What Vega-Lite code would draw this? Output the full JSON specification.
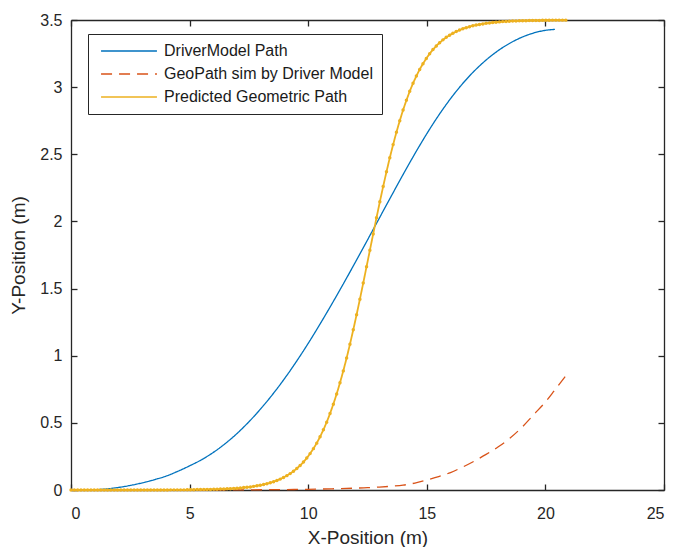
{
"$schema": "https://vega.github.io/schema/vega-lite/v6.json",
"width": 593, "height": 470,
"autosize": {"type": "none"},
"padding": {"left": 71, "top": 20, "right": 11, "bottom": 57},
"background": "white",
"config": {
 "view": {"stroke": null},
 "font": "Liberation Sans",
 "axis": {"domainColor": "#262626", "domainWidth": 1.3, "tickColor": "#262626", "tickWidth": 1.3, "tickSize": 6, "labelColor": "#262626", "labelFont": "Liberation Sans", "labelFontSize": 16, "titleFont": "Liberation Sans", "titleFontSize": 19, "titleFontWeight": "normal", "titleColor": "#262626", "grid": false},
 "legend": {"orient": "none", "legendX": 17, "legendY": 14, "title": null, "symbolType": "M-5,0H5", "symbolSize": 125, "symbolOffset": 24, "symbolStrokeWidth": 1.3, "labelFontSize": 16, "labelFont": "Liberation Sans", "labelColor": "#1a1a1a", "fillColor": "white", "strokeColor": "#262626", "padding": 9, "rowPadding": 7, "labelOffset": 27, "labelLimit": 0}
},
"datasets": {
 "blue": [
  {"x":0,"y":0},{"x":0.5,"y":0},{"x":1,"y":0.002},{"x":1.5,"y":0.008},{"x":2,"y":0.019},{"x":2.5,"y":0.034},{"x":3,"y":0.053},{"x":3.5,"y":0.076},{"x":4,"y":0.103},{"x":4.5,"y":0.139},{"x":5,"y":0.18},{"x":5.5,"y":0.225},{"x":6,"y":0.28},{"x":6.5,"y":0.345},{"x":7,"y":0.421},{"x":7.5,"y":0.508},{"x":8,"y":0.605},{"x":8.5,"y":0.712},{"x":9,"y":0.829},{"x":9.5,"y":0.956},{"x":10,"y":1.092},{"x":10.5,"y":1.236},{"x":11,"y":1.386},{"x":11.5,"y":1.541},{"x":12,"y":1.7},{"x":12.5,"y":1.862},{"x":13,"y":2.025},{"x":13.5,"y":2.188},{"x":14,"y":2.349},{"x":14.5,"y":2.505},{"x":15,"y":2.653},{"x":15.5,"y":2.79},{"x":16,"y":2.914},{"x":16.5,"y":3.024},{"x":17,"y":3.12},{"x":17.5,"y":3.202},{"x":18,"y":3.271},{"x":18.5,"y":3.327},{"x":19,"y":3.371},{"x":19.5,"y":3.403},{"x":20,"y":3.423},{"x":20.4,"y":3.43}
 ],
 "red": [
  {"x":0,"y":0},{"x":4,"y":0},{"x":7,"y":0.001},{"x":9,"y":0.003},{"x":10,"y":0.005},{"x":11,"y":0.009},{"x":12,"y":0.014},{"x":12.5,"y":0.017},{"x":13,"y":0.022},{"x":13.5,"y":0.028},{"x":14,"y":0.036},{"x":14.5,"y":0.052},{"x":15,"y":0.075},{"x":15.5,"y":0.1},{"x":16,"y":0.13},{"x":16.5,"y":0.17},{"x":17,"y":0.215},{"x":17.5,"y":0.265},{"x":18,"y":0.32},{"x":18.5,"y":0.385},{"x":19,"y":0.465},{"x":19.5,"y":0.56},{"x":20,"y":0.655},{"x":20.4,"y":0.745},{"x":20.86,"y":0.85}
 ],
 "yellow": [
  {"x":0,"y":0},{"x":0.14,"y":0},{"x":0.28,"y":0},{"x":0.42,"y":0},{"x":0.56,"y":0},{"x":0.7,"y":0},{"x":0.84,"y":0},{"x":0.98,"y":0},{"x":1.12,"y":0},{"x":1.26,"y":0},{"x":1.4,"y":0},{"x":1.54,"y":0},{"x":1.68,"y":0},{"x":1.82,"y":0},{"x":1.96,"y":0},{"x":2.1,"y":0},{"x":2.24,"y":0},{"x":2.38,"y":0},{"x":2.52,"y":0},{"x":2.66,"y":0},{"x":2.8,"y":0},{"x":2.94,"y":0},{"x":3.08,"y":0},{"x":3.22,"y":0},{"x":3.36,"y":0},{"x":3.5,"y":0},{"x":3.64,"y":0},{"x":3.78,"y":0},{"x":3.92,"y":0},{"x":4.06,"y":0},{"x":4.2,"y":0.001},{"x":4.34,"y":0.001},{"x":4.48,"y":0.001},{"x":4.62,"y":0.001},{"x":4.76,"y":0.001},{"x":4.9,"y":0.002},
  {"x":5.04,"y":0.002},{"x":5.18,"y":0.002},{"x":5.32,"y":0.003},{"x":5.46,"y":0.003},{"x":5.6,"y":0.003},{"x":5.74,"y":0.004},{"x":5.88,"y":0.004},{"x":6.02,"y":0.005},{"x":6.16,"y":0.006},{"x":6.3,"y":0.007},{"x":6.44,"y":0.008},{"x":6.58,"y":0.009},{"x":6.72,"y":0.01},{"x":6.86,"y":0.012},{"x":7,"y":0.013},{"x":7.14,"y":0.015},{"x":7.28,"y":0.018},{"x":7.42,"y":0.02},{"x":7.56,"y":0.023},{"x":7.7,"y":0.027},{"x":7.84,"y":0.031},{"x":7.98,"y":0.036},{"x":8.12,"y":0.041},{"x":8.26,"y":0.047},{"x":8.4,"y":0.054},{"x":8.54,"y":0.062},{"x":8.68,"y":0.071},{"x":8.82,"y":0.081},{"x":8.96,"y":0.093},{"x":9.1,"y":0.107},{"x":9.24,"y":0.122},{"x":9.38,"y":0.14},{"x":9.52,"y":0.16},{"x":9.66,"y":0.183},{"x":9.8,"y":0.208},{"x":9.94,"y":0.238},{"x":10.08,"y":0.271},{"x":10.22,"y":0.308},{"x":10.36,"y":0.349},{"x":10.5,"y":0.396},{"x":10.64,"y":0.448},{"x":10.78,"y":0.505},{"x":10.92,"y":0.569},{"x":11.06,"y":0.639},{"x":11.2,"y":0.715},{"x":11.34,"y":0.798},{"x":11.48,"y":0.887},{"x":11.62,"y":0.983},{"x":11.76,"y":1.085},{"x":11.9,"y":1.193},{"x":12.04,"y":1.305},{"x":12.18,"y":1.421},{"x":12.32,"y":1.541},{"x":12.46,"y":1.663},{"x":12.6,"y":1.785},{"x":12.74,"y":1.907},{"x":12.88,"y":2.028},{"x":13.02,"y":2.146},{"x":13.16,"y":2.26},{"x":13.3,"y":2.37},{"x":13.44,"y":2.474},{"x":13.58,"y":2.572},{"x":13.72,"y":2.665},{"x":13.86,"y":2.75},{"x":14,"y":2.83},{"x":14.14,"y":2.902},{"x":14.28,"y":2.969},{"x":14.42,"y":3.029},{"x":14.56,"y":3.083},{"x":14.7,"y":3.132},{"x":14.84,"y":3.175},{"x":14.98,"y":3.214},{"x":15.12,"y":3.249},{"x":15.26,"y":3.28},{"x":15.4,"y":3.307},{"x":15.54,"y":3.331},{"x":15.68,"y":3.352},{"x":15.82,"y":3.371},{"x":15.96,"y":3.387},{"x":16.1,"y":3.401},{"x":16.24,"y":3.414},{"x":16.38,"y":3.425},{"x":16.52,"y":3.435},{"x":16.66,"y":3.443},{"x":16.8,"y":3.45},{"x":16.94,"y":3.457},{"x":17.08,"y":3.462},{"x":17.22,"y":3.467},{"x":17.36,"y":3.471},{"x":17.5,"y":3.475},{"x":17.64,"y":3.478},{"x":17.78,"y":3.481},{"x":17.92,"y":3.484},{"x":18.06,"y":3.486},{"x":18.2,"y":3.488},{"x":18.34,"y":3.489},{"x":18.48,"y":3.491},{"x":18.62,"y":3.492},{"x":18.76,"y":3.493},{"x":18.9,"y":3.494},{"x":19.04,"y":3.495},{"x":19.18,"y":3.495},{"x":19.32,"y":3.496},{"x":19.46,"y":3.497},{"x":19.6,"y":3.497},{"x":19.74,"y":3.497},{"x":19.88,"y":3.498},{"x":20.02,"y":3.498},{"x":20.16,"y":3.498},{"x":20.3,"y":3.499},{"x":20.44,"y":3.499},{"x":20.58,"y":3.499},{"x":20.72,"y":3.499},{"x":20.86,"y":3.499}
 ]
},
"layer": [
 {
  "data": {"name": "blue"},
  "mark": {"type": "line", "strokeWidth": 1.3, "interpolate": "monotone"},
  "encoding": {
   "x": {"field": "x", "type": "quantitative", "scale": {"domain": [0, 25], "nice": false}, "axis": {"values": [0, 5, 10, 15, 20, 25], "title": "X-Position (m)", "ticks": false, "labelPadding": 15, "titlePadding": 7}},
   "y": {"field": "y", "type": "quantitative", "scale": {"domain": [0, 3.5], "nice": false, "zero": false}, "axis": {"values": [0, 0.5, 1, 1.5, 2, 2.5, 3, 3.5], "format": "~g", "title": "Y-Position (m)", "ticks": false, "labelPadding": 9, "titlePadding": 11}},
   "color": {"datum": "DriverModel Path", "type": "nominal", "scale": {"domain": ["DriverModel Path", "GeoPath sim by Driver Model", "Predicted Geometric Path"], "range": ["#0072BD", "#D95319", "#EDB120"]}},
   "strokeDash": {"datum": "DriverModel Path", "type": "nominal", "scale": {"domain": ["DriverModel Path", "GeoPath sim by Driver Model", "Predicted Geometric Path"], "range": [[1, 0], [11, 7], [1, 0]]}}
  }
 },
 {
  "data": {"name": "red"},
  "mark": {"type": "line", "strokeWidth": 1.3, "interpolate": "monotone"},
  "encoding": {
   "x": {"field": "x", "type": "quantitative", "axis": {"orient": "top", "offset": -470, "labels": false, "title": null, "domain": false, "values": [0, 5, 10, 15, 20, 25]}},
   "y": {"field": "y", "type": "quantitative", "axis": {"orient": "right", "offset": -593, "labels": false, "title": null, "domain": false, "values": [0, 0.5, 1, 1.5, 2, 2.5, 3, 3.5]}},
   "color": {"datum": "GeoPath sim by Driver Model", "type": "nominal"},
   "strokeDash": {"datum": "GeoPath sim by Driver Model", "type": "nominal"}
  }
 },
 {
  "data": {"name": "yellow"},
  "mark": {"type": "line", "strokeWidth": 1.8},
  "encoding": {
   "x": {"field": "x", "type": "quantitative", "axis": {"orient": "bottom", "offset": -470, "labels": false, "title": null, "domain": false, "values": [0, 5, 10, 15, 20, 25]}},
   "y": {"field": "y", "type": "quantitative", "axis": {"orient": "left", "offset": -593, "labels": false, "title": null, "domain": false, "values": [0, 0.5, 1, 1.5, 2, 2.5, 3, 3.5]}},
   "color": {"datum": "Predicted Geometric Path", "type": "nominal"},
   "strokeDash": {"datum": "Predicted Geometric Path", "type": "nominal"}
  }
 },
 {
  "data": {"name": "yellow"},
  "mark": {"type": "point", "filled": true, "size": 12, "color": "#EDB120", "opacity": 1},
  "encoding": {
   "x": {"field": "x", "type": "quantitative", "axis": {"orient": "top", "labels": false, "ticks": false, "title": null, "values": [0, 5, 10, 15, 20, 25]}},
   "y": {"field": "y", "type": "quantitative", "axis": {"orient": "right", "labels": false, "ticks": false, "title": null, "values": [0, 0.5, 1, 1.5, 2, 2.5, 3, 3.5]}}
  }
 }
],
"resolve": {"axis": {"x": "independent", "y": "independent"}}
}
